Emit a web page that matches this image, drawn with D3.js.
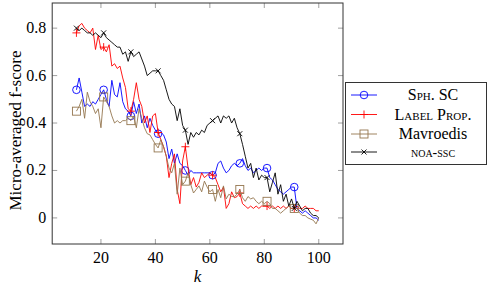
<!DOCTYPE html>
<html>
<head>
<meta charset="utf-8">
<script src="https://cdn.jsdelivr.net/npm/d3@7"></script>
<style>
  body { margin: 0; background: #fff; }
</style>
</head>
<body>
<svg id="chart" width="488" height="287"></svg>
<script>
// k = 11 .. 100
var kValues = d3.range(11, 101);

var sphSC = [0.54,0.59,0.53,0.47,0.48,0.47,0.49,0.48,0.50,0.52,
  0.54,0.50,0.47,0.58,0.52,0.51,0.57,0.49,0.46,0.45,
  0.43,0.49,0.44,0.48,0.40,0.43,0.38,0.42,0.39,0.37,
  0.355,0.36,0.35,0.32,0.25,0.29,0.23,0.27,0.23,0.22,
  0.20,0.18,0.20,0.19,0.19,0.19,0.19,0.19,0.19,0.19,
  0.18,0.19,0.23,0.24,0.21,0.19,0.20,0.22,0.23,0.22,
  0.23,0.25,0.22,0.20,0.21,0.19,0.20,0.21,0.20,0.21,
  0.21,0.17,0.16,0.14,0.12,0.11,0.10,0.11,0.12,0.13,
  0.13,0.04,0.03,0.02,0.03,0.02,0.01,0.00,0.00,-0.01];

var labelProp = [0.78,0.81,0.82,0.80,0.79,0.78,0.80,0.71,0.77,0.71,
  0.72,0.70,0.73,0.64,0.65,0.63,0.64,0.59,0.55,0.46,
  0.45,0.50,0.57,0.50,0.47,0.40,0.43,0.36,0.43,0.44,
  0.36,0.33,0.30,0.26,0.17,0.23,0.27,0.12,0.06,0.24,
  0.30,0.21,0.14,0.17,0.13,0.15,0.19,0.17,0.18,0.19,
  0.18,0.17,0.14,0.11,0.13,0.04,0.06,0.11,0.085,0.09,
  0.105,0.06,0.05,0.04,0.05,0.04,0.05,0.04,0.05,0.05,
  0.05,0.04,0.05,0.04,0.05,0.04,0.05,0.04,0.05,0.04,
  0.04,0.05,0.04,0.04,0.05,0.04,0.04,0.04,0.03,0.03];

var mavroedis = [0.45,0.47,0.50,0.42,0.53,0.49,0.47,0.44,0.46,0.38,
  0.51,0.49,0.47,0.43,0.40,0.41,0.40,0.41,0.41,0.42,
  0.41,0.43,0.38,0.46,0.42,0.38,0.355,0.35,0.33,0.31,
  0.295,0.33,0.30,0.26,0.21,0.19,0.23,0.10,0.21,0.14,
  0.155,0.19,0.14,0.105,0.12,0.135,0.11,0.155,0.13,0.11,
  0.12,0.07,0.12,0.085,0.135,0.08,0.10,0.09,0.09,0.10,
  0.12,0.085,0.07,0.09,0.08,0.085,0.07,0.06,0.07,0.06,
  0.07,0.06,0.04,0.04,0.03,0.02,0.03,0.04,0.05,0.04,
  0.04,0.04,0.02,0.01,0.01,0.00,-0.005,-0.01,-0.025,0.00];

var noaSSC = [0.80,0.79,0.80,0.79,0.78,0.78,0.77,0.78,0.77,0.76,
  0.78,0.76,0.75,0.74,0.73,0.72,0.72,0.69,0.70,0.66,
  0.70,0.68,0.69,0.70,0.67,0.64,0.60,0.61,0.62,0.62,
  0.62,0.60,0.58,0.54,0.50,0.48,0.47,0.41,0.46,0.39,
  0.37,0.31,0.36,0.34,0.36,0.35,0.37,0.36,0.39,0.40,
  0.41,0.42,0.43,0.40,0.43,0.42,0.43,0.40,0.42,0.38,
  0.355,0.31,0.26,0.21,0.23,0.17,0.21,0.16,0.18,0.17,
  0.17,0.11,0.15,0.19,0.10,0.14,0.07,0.10,0.05,0.08,
  0.04,0.07,0.05,0.03,0.04,0.04,0.02,0.01,0.01,0.00];

var xTicks = [20, 40, 60, 80, 100];
var yTicks = [0, 0.2, 0.4, 0.6, 0.8];

var series = [
  {name: "Sph. SC", values: sphSC, color: "#0000ff", marker: "circle", sc: true},
  {name: "Label Prop.", values: labelProp, color: "#ff0000", marker: "plus", sc: true},
  {name: "Mavroedis", values: mavroedis, color: "#94764f", marker: "square", sc: false},
  {name: "noa-ssc", values: noaSSC, color: "#000000", marker: "cross", sc: true}
];

var FONT = "'Liberation Serif'";
var svg = d3.select("#chart");
var plot = {left: 52.2, right: 343, top: 3, bottom: 244};

var x = d3.scaleLinear().domain([2.1, 108.9]).range([plot.left, plot.right]);
var y = d3.scaleLinear().domain([-0.11, 0.906]).range([plot.bottom, plot.top]);

// ticks, inside on all four sides (pgfplots style)
var tickLen = 5;
var g = svg.append("g");
xTicks.forEach(function(t) {
  g.append("line").attr("x1", x(t)).attr("x2", x(t)).attr("y1", plot.bottom).attr("y2", plot.bottom - tickLen)
    .attr("stroke", "#888").attr("stroke-width", 0.8);
  g.append("line").attr("x1", x(t)).attr("x2", x(t)).attr("y1", plot.top).attr("y2", plot.top + tickLen)
    .attr("stroke", "#888").attr("stroke-width", 0.8);
  g.append("text").attr("x", x(t)).attr("y", plot.bottom + 18.5)
    .style("font-family", FONT)
    .attr("text-anchor", "middle").attr("font-size", 16).text(t);
});
yTicks.forEach(function(t) {
  g.append("line").attr("x1", plot.left).attr("x2", plot.left + tickLen).attr("y1", y(t)).attr("y2", y(t))
    .attr("stroke", "#888").attr("stroke-width", 0.8);
  g.append("line").attr("x1", plot.right).attr("x2", plot.right - tickLen).attr("y1", y(t)).attr("y2", y(t))
    .attr("stroke", "#888").attr("stroke-width", 0.8);
  g.append("text").attr("x", plot.left - 6).attr("y", y(t) + 5)
    .style("font-family", FONT)
    .attr("text-anchor", "end").attr("font-size", 16).text(t === 0 ? "0" : d3.format(".1f")(t));
});

// data lines
var line = d3.line().x(function(d, i) { return x(kValues[i]); }).y(function(d) { return y(d); });

function drawMarker(sel, type, color, cx, cy) {
  if (type === "circle") {
    sel.append("circle").attr("cx", cx).attr("cy", cy).attr("r", 3.8)
      .attr("fill", "none").attr("stroke", color).attr("stroke-width", 0.9);
  } else if (type === "square") {
    sel.append("rect").attr("x", cx - 4).attr("y", cy - 4).attr("width", 8).attr("height", 8)
      .attr("fill", "none").attr("stroke", color).attr("stroke-width", 0.9);
  } else if (type === "plus") {
    sel.append("path").attr("d", "M" + (cx - 4) + "," + cy + "h8M" + cx + "," + (cy - 4) + "v8")
      .attr("stroke", color).attr("stroke-width", 0.9);
  } else {
    sel.append("path").attr("d", "M" + (cx - 2.5) + "," + (cy - 2.5) + "l5,5M" + (cx - 2.5) + "," + (cy + 2.5) + "l5,-5")
      .attr("stroke", color).attr("stroke-width", 0.9);
  }
}

series.forEach(function(s) {
  var sg = svg.append("g");
  sg.append("path").attr("d", line(s.values))
    .attr("fill", "none").attr("stroke", s.color).attr("stroke-width", 0.9)
    .attr("stroke-linejoin", "round");
  s.values.forEach(function(v, i) {
    if (i % 10 === 0) drawMarker(sg, s.marker, s.color, x(kValues[i]), y(v));
  });
});

// frame
svg.append("rect").attr("x", plot.left).attr("y", plot.top)
  .attr("width", plot.right - plot.left).attr("height", plot.bottom - plot.top)
  .attr("fill", "none").attr("stroke", "#333").attr("stroke-width", 1);

// axis labels
svg.append("text").attr("x", (plot.left + plot.right) / 2).attr("y", 282)
  .style("font-family", FONT)
  .attr("text-anchor", "middle").attr("font-size", 17).attr("font-style", "italic").text("k");
svg.append("text").attr("transform", "translate(21," + ((plot.top + plot.bottom) / 2 + 7) + ") rotate(-90)")
  .style("font-family", FONT)
  .attr("text-anchor", "middle").attr("font-size", 17).text("Micro-averaged f-score");

// legend
var lg = svg.append("g");
lg.append("rect").attr("x", 345.5).attr("y", 82.5).attr("width", 141).attr("height", 82)
  .attr("fill", "#fff").attr("stroke", "#333").attr("stroke-width", 1);
var rowY = [95, 114.5, 134, 152];
series.forEach(function(s, i) {
  lg.append("line").attr("x1", 351).attr("x2", 377).attr("y1", rowY[i]).attr("y2", rowY[i])
    .attr("stroke", s.color).attr("stroke-width", 0.9);
  drawMarker(lg, s.marker, s.color, 364, rowY[i]);
  lg.append("text").attr("x", 433).attr("y", rowY[i] + 5)
    .style("font-family", FONT)
    .style("font-variant", s.sc ? "small-caps" : "normal")
    .attr("text-anchor", "middle").attr("font-size", s.name === "noa-ssc" ? 14 : 16)
    .text(s.name);
});
</script>
</body>
</html>
